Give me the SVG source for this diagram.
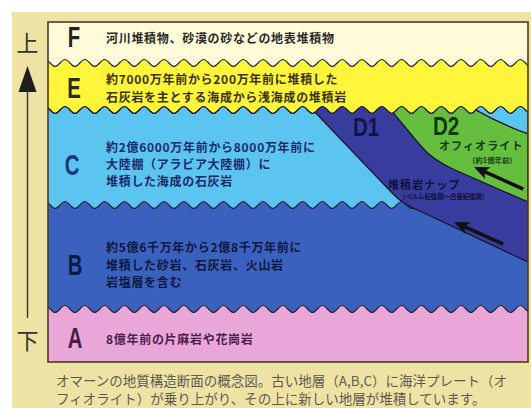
<svg xmlns="http://www.w3.org/2000/svg" xmlns:xlink="http://www.w3.org/1999/xlink" width="531" height="408" viewBox="0 0 531 408">
  <style>
    .jp { font-family: "Noto Sans CJK JP", "Noto Sans", sans-serif; font-weight: bold; font-size: 12px; letter-spacing: 0.7px; dominant-baseline: central; }
    .s11 { font-size: 11px; letter-spacing: 1.1px; }
    .s7 { font-size: 7.4px; letter-spacing: 0; }
    .s6 { font-size: 6.4px; letter-spacing: 0; }
    .cap { font-family: "Noto Sans CJK JP", "Noto Sans", sans-serif; font-size: 13.5px; fill: #5e5b50; dominant-baseline: central; }
    .axis { font-family: "Noto Sans CJK JP", sans-serif; font-size: 22px; fill: #333; dominant-baseline: central; text-anchor: middle; }
    .letter { font-family: "Liberation Sans", Arial, sans-serif; font-weight: bold; font-size: 29px; text-anchor: middle; dominant-baseline: central; }
    .dlabel { font-family: "Liberation Sans", Arial, sans-serif; font-weight: bold; font-size: 25px; dominant-baseline: central; }
    .layer { stroke: #2a2030; stroke-width: 1.2; }
    .edge { stroke: #15152a; stroke-width: 1.2; stroke-linejoin: round; }
  </style>
  <defs>
    <!-- wavy boundary: crests at x = 65 + 19.8k, closed downward so it can be filled -->
    <path id="wave" d="M45.2 -3.5c3.3 0 6.6 7 9.9 7s6.6 -7 9.9 -7s6.6 7 9.9 7s6.6 -7 9.9 -7s6.6 7 9.9 7s6.6 -7 9.9 -7s6.6 7 9.9 7s6.6 -7 9.9 -7s6.6 7 9.9 7s6.6 -7 9.9 -7s6.6 7 9.9 7s6.6 -7 9.9 -7s6.6 7 9.9 7s6.6 -7 9.9 -7s6.6 7 9.9 7s6.6 -7 9.9 -7s6.6 7 9.9 7s6.6 -7 9.9 -7s6.6 7 9.9 7s6.6 -7 9.9 -7s6.6 7 9.9 7s6.6 -7 9.9 -7s6.6 7 9.9 7s6.6 -7 9.9 -7s6.6 7 9.9 7s6.6 -7 9.9 -7s6.6 7 9.9 7s6.6 -7 9.9 -7s6.6 7 9.9 7s6.6 -7 9.9 -7s6.6 7 9.9 7s6.6 -7 9.9 -7s6.6 7 9.9 7s6.6 -7 9.9 -7s6.6 7 9.9 7s6.6 -7 9.9 -7s6.6 7 9.9 7s6.6 -7 9.9 -7s6.6 7 9.9 7s6.6 -7 9.9 -7s6.6 7 9.9 7s6.6 -7 9.9 -7s6.6 7 9.9 7s6.6 -7 9.9 -7s6.6 7 9.9 7s6.6 -7 9.9 -7s6.6 7 9.9 7s6.6 -7 9.9 -7s6.6 7 9.9 7s6.6 -7 9.9 -7V400H40Z"/>
    <clipPath id="boxClip">
      <rect x="48" y="22" width="480" height="340"/>
    </clipPath>
    <clipPath id="belowEC">
      <use xlink:href="#wave" transform="translate(0 110)"/>
    </clipPath>
    <!-- thrust arrow pointing along +x, tip at origin -->
    <g id="thrust">
      <line x1="-54" y1="0" x2="-9" y2="0" stroke="#111" stroke-width="3.6"/>
      <path d="M0 0L-15 -6.5L-11.5 0L-15 6.5Z" fill="#111"/>
    </g>
  </defs>

  <!-- sheet -->
  <rect x="12" y="12" width="519" height="396" fill="#EEE3A5"/>

  <!-- vertical age axis -->
  <g id="axis">
    <text class="axis" x="27.5" y="41">上</text>
    <polygon points="27.5,66 18.5,92 36.5,92" fill="#1e1e1e"/>
    <line x1="27.5" y1="90" x2="27.5" y2="318" stroke="#333" stroke-width="1.4"/>
    <text class="axis" x="27.5" y="339">下</text>
  </g>

  <g clip-path="url(#boxClip)">
    <g id="layer-F">
      <rect x="48" y="22" width="480" height="340" fill="#FFFBD8"/>
    </g>
    <g id="layer-E">
      <use xlink:href="#wave" class="layer" transform="translate(0 63)" fill="#FFF53A"/>
    </g>
    <g id="layer-C">
      <use xlink:href="#wave" class="layer" transform="translate(0 110)" fill="#5CC5EF"/>
    </g>
    <g id="layer-B">
      <use xlink:href="#wave" class="layer" transform="translate(0 205)" fill="#3B61BF"/>
    </g>
    <g id="layer-A">
      <use xlink:href="#wave" class="layer" transform="translate(0 309)" fill="#E9A7D7"/>
    </g>

    <!-- overthrust sheets, kept below the E/C boundary -->
    <g clip-path="url(#belowEC)">
      <g id="D1">
        <path class="edge" d="M302 98L312 109L394 195Q404 205 422 212L528 262V98Z" fill="#383D9D"/>
      </g>
      <g id="C-corner">
        <path class="edge" d="M466 98L474 109Q500 124 528 134V98Z" fill="#5CC5EF"/>
      </g>
      <g id="D2">
        <path class="edge" d="M381 98L390 109L420 145Q432 160 455 170L528 202V134Q500 124 474 109L466 98Z" fill="#66BE3E"/>
      </g>
    </g>
    <use xlink:href="#wave" class="layer" transform="translate(0 110)" fill="none"/>
  </g>

  <!-- frame -->
  <rect x="48" y="22" width="480" height="340" fill="none" stroke="#4a3a2a" stroke-width="1.6"/>

  <!-- layer letters -->
  <text class="letter" transform="translate(74 37) scale(0.7 1)" fill="#222">F</text>
  <text class="letter" transform="translate(74 88) scale(0.7 1)" fill="#2a2a10">E</text>
  <text class="letter" transform="translate(72 165) scale(0.7 1)" fill="#1b3580">C</text>
  <text class="letter" transform="translate(75 265) scale(0.7 1)" fill="#0c1a48">B</text>
  <text class="letter" transform="translate(75 338) scale(0.7 1)" fill="#4a1a48">A</text>

  <!-- layer descriptions -->
  <text class="jp" x="106" y="37" fill="#2a2a2a">河川堆積物、砂漠の砂などの地表堆積物</text>
  <text class="jp" x="106" y="78" fill="#3a3208">約7000万年前から200万年前に堆積した</text>
  <text class="jp" x="106" y="96" fill="#3a3208">石灰岩を主とする海成から浅海成の堆積岩</text>
  <text class="jp" x="106" y="146" fill="#1a2a6a">約2億6000万年前から8000万年前に</text>
  <text class="jp" x="106" y="163" fill="#1a2a6a">大陸棚（アラビア大陸棚）に</text>
  <text class="jp" x="106" y="180" fill="#1a2a6a">堆積した海成の石灰岩</text>
  <text class="jp" x="106" y="246" fill="#0c1840">約5億6千万年から2億8千万年前に</text>
  <text class="jp" x="106" y="264" fill="#0c1840">堆積した砂岩、石灰岩、火山岩</text>
  <text class="jp" x="106" y="281" fill="#0c1840">岩塩層を含む</text>
  <text class="jp" x="106" y="338" fill="#4a2050">8億年前の片麻岩や花崗岩</text>

  <!-- thrust sheet labels -->
  <text class="dlabel" transform="translate(353 127) scale(0.82 1)" fill="#12124a">D1</text>
  <text class="dlabel" transform="translate(433 126) scale(0.82 1)" fill="#0e3a0e">D2</text>
  <text class="jp s11" x="439" y="145" fill="#123a12">オフィオライト</text>
  <text class="jp s7" x="468" y="159" fill="#1a3a1a">（約1億年前）</text>
  <text class="jp s11" x="388" y="184" fill="#101040">堆積岩ナップ</text>
  <text class="jp s6" x="399" y="196" fill="#101040">（ペルム紀後期〜白亜紀後期）</text>

  <!-- movement arrows -->
  <g id="connectors">
    <use xlink:href="#thrust" transform="translate(474 167) rotate(204.1)"/>
    <use xlink:href="#thrust" transform="translate(454 222) rotate(204.3)"/>
  </g>

  <!-- caption -->
  <text class="cap" x="56" y="380">オマーンの地質構造断面の概念図。古い地層（A,B,C）に海洋プレート（オ</text>
  <text class="cap" x="56" y="398">フィオライト）が乗り上がり、その上に新しい地層が堆積しています。</text>
</svg>
